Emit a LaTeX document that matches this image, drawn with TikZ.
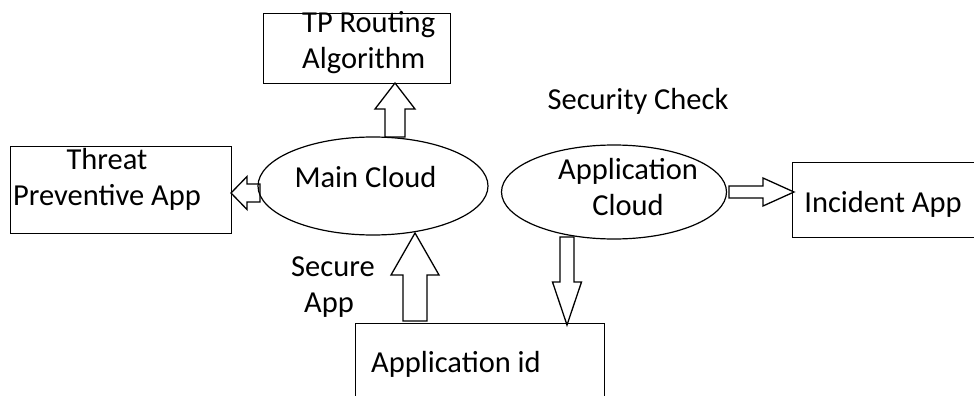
\documentclass[tikz,border=0pt]{standalone}
\usepackage{fontspec}
\setmainfont{Carlito}
\usetikzlibrary{calc,shapes.geometric}
\newcommand\blockarr[5]{% from, to, shaft half width, head half width, head length
  \coordinate (hb) at ($(#2)!#5!(#1)$);
  \draw[barrow] ($(#1)!#3!90:(#2)$) -- ($(hb)!#3!90:(#2)$) -- ($(hb)!#4!90:(#2)$) -- (#2)
    -- ($(hb)!#4!-90:(#2)$) -- ($(hb)!#3!-90:(#2)$) -- ($(#1)!#3!-90:(#2)$) -- cycle;}
\begin{document}
\begin{tikzpicture}[x=1pt,y=-1pt,
  box/.style={draw, line width=1.4pt, inner sep=0, anchor=north west},
  cloud/.style={draw, ellipse, line width=1.2pt, inner sep=0},
  lbl/.style={font=\fontsize{30.5}{36}\selectfont, inner sep=0, anchor=base},
  barrow/.style={draw, line width=1.3pt, line join=miter}]
\useasboundingbox (0,0) rectangle (974,396);
\clip (0,0) rectangle (974,396);
% boxes
\node[box, minimum width=187pt, minimum height=70pt] (tp) at (263,13) {};
\node[box, minimum width=221pt, minimum height=87pt] (threat) at (10,146) {};
\node[box, minimum width=198pt, minimum height=75pt] (incident) at (792,162) {};
\node[box, minimum width=249pt, minimum height=90pt] (appid) at (355,323) {};
% clouds
\node[cloud, minimum width=230pt, minimum height=98pt] (main) at (373,186) {};
\node[cloud, minimum width=225pt, minimum height=94pt] (appcloud) at (614,192) {};
% labels
\node[lbl, anchor=base west] (tp1) at (302,33) {TP Routing};
\node[lbl, anchor=base west] (tp2) at (302,69) {Algorithm};
\node[lbl] (th1) at (107,169) {Threat};
\node[lbl] (th2) at (107,205) {Preventive App};
\node[lbl] (mc) at (365.5,187) {Main Cloud};
\node[lbl] (ac1) at (628,179) {Application};
\node[lbl] (ac2) at (628,215) {Cloud};
\node[lbl] (inc) at (883,212) {Incident App};
\node[lbl] (sc) at (638,109) {Security Check};
\node[lbl] (sa1) at (333,276) {Secure};
\node[lbl] (sa2) at (329,312) {App};
\node[lbl] (aid) at (456,372) {Application id};
% arrow end points
\coordinate (t1) at (395,137); \coordinate (t2) at (395,83);
\coordinate (l1) at (260,193); \coordinate (l2) at (231,193);
\coordinate (r1) at (729,192); \coordinate (r2) at (794,192);
\coordinate (d1) at (567,237); \coordinate (d2) at (567,325);
\coordinate (u1) at (415,321); \coordinate (u2) at (415,233);
\blockarr{t1}{t2}{10pt}{20pt}{26pt}
\blockarr{l1}{l2}{9pt}{16.5pt}{16pt}
\blockarr{r1}{r2}{6pt}{14pt}{31pt}
\blockarr{d1}{d2}{7pt}{14.5pt}{43pt}
\blockarr{u1}{u2}{12pt}{24pt}{42pt}
\end{tikzpicture}
\end{document}
